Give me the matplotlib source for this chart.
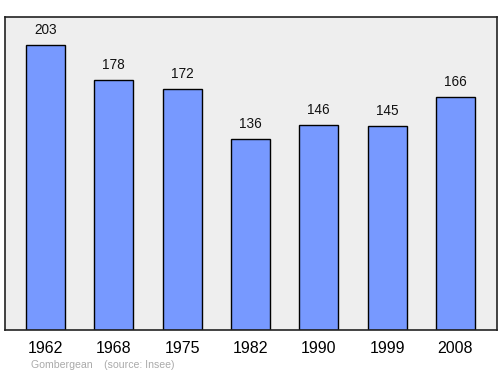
import matplotlib
matplotlib.use("Agg")
import matplotlib.pyplot as plt

plt.rcParams["font.family"] = ["Liberation Sans", "DejaVu Sans"]

years = ["1962", "1968", "1975", "1982", "1990", "1999", "2008"]
population = [203, 178, 172, 136, 146, 145, 166]

fig = plt.figure(figsize=(5, 3.74), dpi=100)
ax = fig.add_axes([0.01, 0.1176, 0.984, 0.837])
ax.set_facecolor("#eeeeee")
x = list(range(len(years)))
ax.bar(x, population, width=0.571, color="#7799ff", edgecolor="black", linewidth=1.0)
for xi, v in zip(x, population):
    ax.annotate(str(v), (xi, v), xytext=(0, 8), textcoords="offset pixels",
                ha="center", va="bottom", fontsize=9.8, color="#111111")
ax.set_xlim(-0.593, 6.608)
ax.set_ylim(0, 223)
ax.set_xticks(x)
ax.set_xticklabels(years, fontsize=11.5)
ax.tick_params(axis="x", length=0, pad=8)
ax.set_yticks([])
for s in ax.spines.values():
    s.set_linewidth(1.2)
    s.set_color("#222222")
fig.text(31/500, 1 - 365/374, "Gombergean    (source: Insee)", fontsize=7.6, color="#aaaaaa",
         ha="left", va="center")
fig.savefig("out.png", dpi=100)
